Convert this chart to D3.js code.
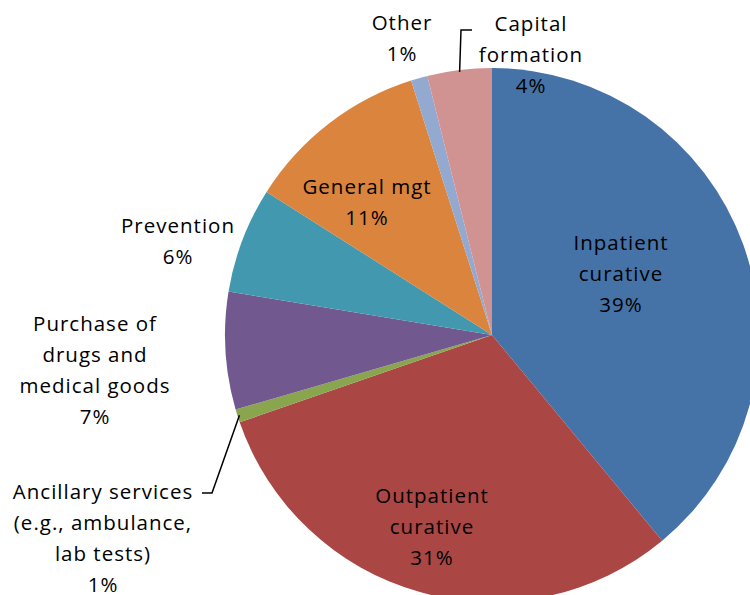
<!DOCTYPE html>
<html>
<head>
<meta charset="utf-8">
<script src="https://cdn.jsdelivr.net/npm/d3@7"></script>
<style>
body { margin: 0; background: #fff; }
svg text { font-family: "Open Sans", Lato, sans-serif; font-size: 20.5px; letter-spacing: 1px; fill: #000; }
</style>
</head>
<body>
<svg width="750" height="595"></svg>
<script>
// slices, clockwise from 12 o'clock
var categories = ["Inpatient curative", "Outpatient curative", "Ancillary services", "Purchase of drugs", "Prevention", "General mgt", "Other", "Capital formation"];
var shares = [39.0, 30.7, 0.8, 7.1, 6.4, 11.1, 1.0, 3.9];
var pctLabels = ["39%", "31%", "1%", "7%", "6%", "11%", "1%", "4%"];
var labelLines = [
    ["Inpatient", "curative"],
    ["Outpatient", "curative"],
    ["Ancillary services", "(e.g.,  ambulance,", "lab tests)"],
    ["Purchase of", "drugs and", "medical goods"],
    ["Prevention"],
    ["General mgt"],
    ["Other"],
    ["Capital", "formation"]
];
var colors = ["#4572A7", "#AA4643", "#89A54E", "#71588F", "#4198AF", "#DB843D", "#93A9CF", "#D19392"];

var svg = d3.select("svg"),
    cx = 492, cy = 335, r = 267;

var pie = d3.pie().sort(null).value(function (d) { return d; });
var arc = d3.arc().innerRadius(0).outerRadius(r);
var arcs = pie(shares);

var g = svg.append("g").attr("transform", "translate(" + cx + "," + cy + ")");

g.selectAll("path")
    .data(arcs)
    .enter().append("path")
    .attr("d", arc)
    .style("fill", function (d, i) { return colors[i]; });

// label anchor spots (centre x, first line baseline) relative to the pie centre
var labelPos = [
    [129, -85], [-60, 168], [-389, 164], [-397, -4], [-314, -102], [-125, -141], [-90, -305], [39, -304]
];
var lineH = 31;

var labels = svg.append("g").attr("transform", "translate(" + cx + "," + cy + ")");
arcs.forEach(function (a, i) {
    var lines = labelLines[i].concat([pctLabels[i]]);
    var t = labels.append("text")
        .attr("text-anchor", "middle")
        .attr("x", labelPos[i][0])
        .attr("y", labelPos[i][1]);
    lines.forEach(function (s, k) {
        t.append("tspan")
            .attr("x", labelPos[i][0])
            .attr("y", labelPos[i][1] + k * lineH)
            .text(s);
    });
});

// leader lines
function leader(i, pts) {
    var ang = (arcs[i].startAngle + arcs[i].endAngle) / 2;
    var edge = [Math.sin(ang) * (r - 2), -Math.cos(ang) * (r - 2)];
    labels.append("path")
        .attr("d", d3.line()([edge].concat(pts)))
        .attr("fill", "none")
        .attr("stroke", "#000")
        .attr("stroke-width", 1.5);
}
leader(2, [[-280, 158], [-290, 158]]);
leader(7, [[-31, -305], [-20, -305]]);
</script>
</body>
</html>
